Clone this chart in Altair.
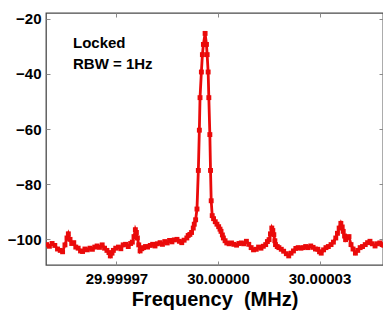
import altair as alt
import pandas as pd

# Frequency offset from 30 MHz (Hz) and measured power (dB)
freq_offset_hz = [
    -50.6, -49.8, -49.0, -48.2, -47.4, -46.6, -45.9, -45.2, -44.6, -44.2,
    -43.7, -43.2, -42.6, -42.0, -41.3, -40.6, -40.0, -39.3, -38.6, -37.8,
    -37.1, -36.4, -35.7, -35.0, -34.2, -33.5, -32.8, -32.2, -31.8, -31.3,
    -30.9, -30.2, -29.4, -28.7, -28.0, -27.3, -26.5, -25.8, -25.3, -24.8,
    -24.4, -24.1, -23.8, -23.4, -23.0, -22.5, -22.0, -21.4, -20.8, -20.0,
    -19.3, -18.6, -17.9, -17.1, -16.4, -15.7, -15.0, -14.3, -13.6, -12.9,
    -12.1, -11.4, -10.7, -10.0, -9.2, -8.8, -8.3, -7.8, -7.3, -7.0,
    -6.6, -6.2, -5.8, -5.5, -5.3, -4.9, -4.6, -4.3, -3.8, -3.4,
    -3.2, -2.9, -2.7, -2.4, -2.2, -2.0, -1.7, -1.3, -0.8, -0.3,
    0.2, 0.6, 0.9, 1.3, 1.6, 2.1, 2.6, 3.3, 4.0, 4.7,
    5.5, 6.2, 6.9, 7.6, 8.4, 9.1, 9.8, 10.5, 11.3, 12.0,
    12.7, 13.4, 14.1, 14.6, 15.1, 15.5, 15.9, 16.2, 16.5, 16.8,
    17.0, 17.5, 18.0, 18.7, 19.4, 20.2, 20.9, 21.6, 22.3, 23.0,
    23.7, 24.5, 25.2, 25.9, 26.6, 27.4, 28.1, 28.8, 29.5, 30.0,
    30.5, 31.2, 31.9, 32.6, 33.4, 34.1, 34.8, 35.3, 35.8, 36.3,
    36.7, 37.0, 37.4, 37.7, 38.2, 38.7, 39.3, 39.9, 40.6, 41.3,
    42.0, 42.7, 43.5, 44.2, 44.9, 45.6, 46.4, 47.1, 47.8, 48.5,
    49.0,
]
power_db = [
    -101.9, -102.5, -101.5, -102.2, -103.5, -104.0, -104.5, -102.0, -99.5, -98.0,
    -100.0, -101.5, -101.2, -102.8, -103.2, -104.2, -104.4, -103.5, -103.8, -103.2,
    -103.6, -102.8, -102.4, -102.9, -102.0, -103.2, -104.0, -104.8, -106.0, -105.0,
    -104.0, -103.2, -102.8, -103.4, -102.0, -101.8, -102.6, -101.5, -101.0, -99.0,
    -96.5, -97.5, -99.5, -102.0, -104.2, -103.4, -103.0, -102.6, -102.8, -102.2,
    -101.8, -102.4, -101.6, -101.2, -101.8, -100.8, -101.3, -100.4, -100.9, -100.2,
    -100.0, -100.7, -101.2, -100.3, -99.5, -98.6, -98.2, -97.5, -95.9, -94.5,
    -92.9, -89.0, -75.0, -60.4, -48.6, -39.3, -33.0, -29.3, -25.3, -29.3,
    -33.0, -39.3, -48.6, -62.0, -75.0, -86.0, -91.4, -92.5, -93.6, -94.5,
    -95.4, -96.3, -97.1, -98.4, -99.5, -100.5, -101.3, -101.6, -101.3, -101.8,
    -102.1, -101.5, -101.3, -101.6, -100.7, -101.8, -103.0, -103.8, -103.6, -102.8,
    -103.2, -102.5, -101.9, -100.8, -100.1, -98.0, -95.9, -96.8, -98.3, -100.5,
    -101.9, -102.6, -103.0, -103.6, -104.3, -105.2, -106.0, -105.0, -104.2, -103.3,
    -103.0, -103.2, -103.0, -102.6, -103.0, -102.4, -102.9, -103.5, -103.6, -104.5,
    -105.0, -103.8, -103.0, -102.6, -101.9, -101.0, -99.5, -97.8, -95.9, -94.2,
    -95.5, -97.1, -98.8, -100.1, -99.3, -99.0, -101.9, -103.5, -105.0, -104.0,
    -103.0, -102.6, -101.9, -101.2, -100.7, -101.6, -102.4, -101.6, -101.3, -101.9,
    -102.2,
]
x_tick_values = [-30, 0, 30]
y_tick_values = [-20, -40, -60, -80, -100]
annotation_lines = ["Locked", "RBW = 1Hz"]

RED = "#ea0a0a"
FONT = "Liberation Sans"

df = pd.DataFrame({"f": freq_offset_hz, "p": power_db, "i": list(range(len(power_db)))})

xs = alt.Scale(domain=[-50.8, 48.75], nice=False, zero=False)
ys = alt.Scale(domain=[-109.3, -17.9], nice=False, zero=False)
label_expr = "format(30 + datum.value * 1e-6, '.5f')"

common_axis = dict(domain=False, grid=False, tickColor="#8a8a8a", tickWidth=1,
                   tickSize=4, offset=-4, labelFont=FONT, labelFontSize=15,
                   labelFontWeight="bold", labelColor="#000000")

base = alt.Chart(df)

trace = base.mark_line(
    color=RED, strokeWidth=2.8, clip=True,
    point=alt.OverlayMarkDef(shape="square", size=24, filled=True, color=RED, opacity=1),
).encode(
    x=alt.X("f:Q", scale=xs, axis=alt.Axis(
        orient="bottom", values=x_tick_values, labelExpr=label_expr,
        title="Frequency\u00a0\u00a0(MHz)", titleFont=FONT, titleFontSize=20,
        titleFontWeight="bold", titleColor="#000000", titlePadding=3,
        labelPadding=6, **common_axis)),
    y=alt.Y("p:Q", scale=ys, axis=alt.Axis(
        orient="left", values=y_tick_values, title=None, labelPadding=5,
        **common_axis)),
    order="i:Q",
)

mirror = base.mark_point(opacity=0).encode(
    x=alt.X("f:Q", scale=xs, axis=alt.Axis(orient="top", values=x_tick_values,
                                           labels=False, title=None, **common_axis)),
    y=alt.Y("p:Q", scale=ys, axis=alt.Axis(orient="right", values=y_tick_values,
                                           labels=False, title=None, **common_axis)),
)

note = alt.Chart(pd.DataFrame({"k": [0]})).mark_text(
    text=annotation_lines, align="left", baseline="alphabetic", font=FONT,
    fontSize=15, fontWeight="bold", color="#000000", lineHeight=21,
).encode(x=alt.value(27), y=alt.value(35))

chart = alt.layer(trace, mirror, note).resolve_axis(
    x="independent", y="independent"
).properties(
    width=337, height=252,
    autosize=alt.AutoSizeParams(type="none"),
    padding={"left": 38, "top": 5, "right": 0, "bottom": 45},
).configure_view(stroke="#4a4a4a", strokeWidth=1.3)

chart.save("out.html", embed_options={"renderer": "svg", "actions": False})
